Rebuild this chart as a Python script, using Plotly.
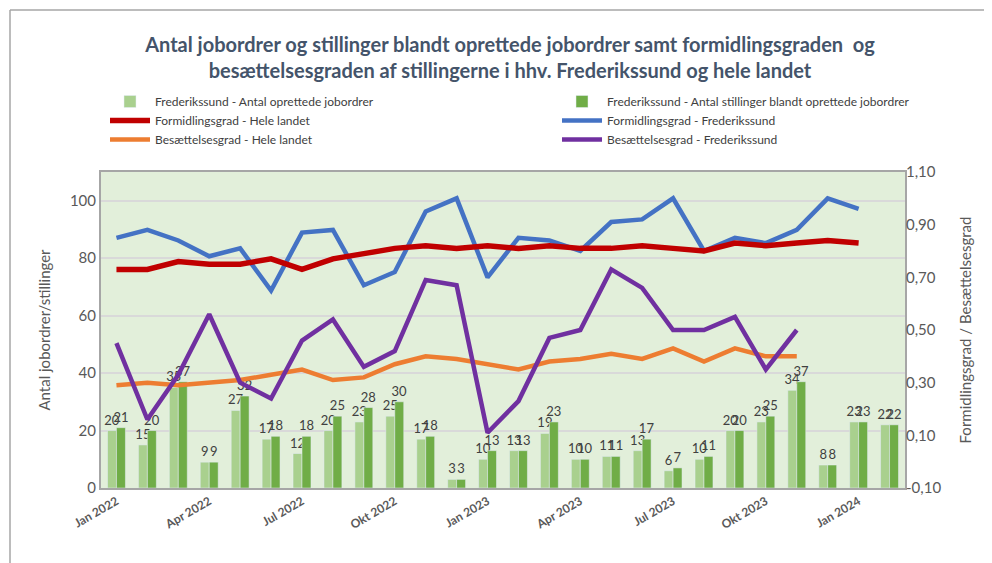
import plotly.graph_objects as go

months = ["Jan 2022", "Feb 2022", "Mar 2022", "Apr 2022", "Maj 2022", "Jun 2022",
          "Jul 2022", "Aug 2022", "Sep 2022", "Okt 2022", "Nov 2022", "Dec 2022",
          "Jan 2023", "Feb 2023", "Mar 2023", "Apr 2023", "Maj 2023", "Jun 2023",
          "Jul 2023", "Aug 2023", "Sep 2023", "Okt 2023", "Nov 2023", "Dec 2023",
          "Jan 2024", "Feb 2024"]
tick_months = ["Jan 2022", "Apr 2022", "Jul 2022", "Okt 2022", "Jan 2023",
               "Apr 2023", "Jul 2023", "Okt 2023", "Jan 2024"]

jobordrer = [20, 15, 35, 9, 27, 17, 12, 20, 23, 25, 17, 3, 10, 13, 19, 10, 11, 13,
             6, 10, 20, 23, 34, 8, 23, 22]
stillinger = [21, 20, 37, 9, 32, 18, 18, 25, 28, 30, 18, 3, 13, 13, 23, 10, 11, 17,
              7, 11, 20, 25, 37, 8, 23, 22]

formid_landet = [0.73, 0.73, 0.76, 0.75, 0.75, 0.77, 0.73, 0.77, 0.79, 0.81, 0.82,
                 0.81, 0.82, 0.81, 0.82, 0.81, 0.81, 0.82, 0.81, 0.80, 0.83, 0.82,
                 0.83, 0.84, 0.83]
formid_fred = [0.85, 0.88, 0.84, 0.78, 0.81, 0.65, 0.87, 0.88, 0.67, 0.72, 0.95,
               1.00, 0.70, 0.85, 0.84, 0.80, 0.91, 0.92, 1.00, 0.80, 0.85, 0.83,
               0.88, 1.00, 0.96]
besaet_landet = [0.29, 0.30, 0.29, 0.30, 0.31, 0.33, 0.35, 0.31, 0.32, 0.37, 0.40,
                 0.39, 0.37, 0.35, 0.38, 0.39, 0.41, 0.39, 0.43, 0.38, 0.43, 0.40,
                 0.40]
besaet_fred = [0.45, 0.16, 0.33, 0.56, 0.30, 0.24, 0.46, 0.54, 0.36, 0.42, 0.69,
               0.67, 0.11, 0.23, 0.47, 0.50, 0.73, 0.66, 0.50, 0.50, 0.55, 0.35,
               0.50]

right_ticks = [-0.10, 0.10, 0.30, 0.50, 0.70, 0.90, 1.10]
right_ticktext = ["-0,10", "0,10", "0,30", "0,50", "0,70", "0,90", "1,10"]

FONT = "Lato, Carlito, Calibri, sans-serif"
GRAY = "#595959"

fig = go.Figure()
fig.add_trace(go.Bar(x=months, y=jobordrer, name="Frederikssund - Antal oprettede jobordrer",
                     marker_color="#A9D08E", text=jobordrer, textposition="outside",
                     textfont=dict(color="#404040", size=13), cliponaxis=False,
                     constraintext="none", legend="legend"))
fig.add_trace(go.Bar(x=months, y=stillinger,
                     name="Frederikssund - Antal stillinger blandt oprettede jobordrer",
                     marker_color="#70AD47", text=stillinger, textposition="outside",
                     textfont=dict(color="#404040", size=13), cliponaxis=False,
                     constraintext="none", legend="legend2"))
fig.add_trace(go.Scatter(x=months[:len(formid_fred)], y=formid_fred, yaxis="y2",
                         mode="lines", name="Formidlingsgrad - Frederikssund",
                         line=dict(color="#4472C4", width=4.5), legend="legend2"))
fig.add_trace(go.Scatter(x=months[:len(formid_landet)], y=formid_landet, yaxis="y2",
                         mode="lines", name="Formidlingsgrad - Hele landet",
                         line=dict(color="#C00000", width=5.5), legend="legend"))
fig.add_trace(go.Scatter(x=months[:len(besaet_landet)], y=besaet_landet, yaxis="y2",
                         mode="lines", name="Besættelsesgrad - Hele landet",
                         line=dict(color="#ED7D31", width=4.5), legend="legend"))
fig.add_trace(go.Scatter(x=months[:len(besaet_fred)], y=besaet_fred, yaxis="y2",
                         mode="lines", name="Besættelsesgrad - Frederikssund",
                         line=dict(color="#7030A0", width=4.5), legend="legend2"))

# page offset (default body margin) and figure size
OFF = 8
W, H = 984, 555
# plot area in screen pixels
SX0, SX1, SY0, SY1 = 101, 905, 172, 488
L, R, T, B = SX0 - OFF, W - (SX1 - OFF), SY0 - OFF, H - (SY1 - OFF)
PW, PH = W - L - R, H - T - B

def px(xs):
    return (xs - SX0) / PW

def py(ys):
    return (SY1 - ys) / PH

legend_common = dict(orientation="v", yanchor="top", xanchor="left",
                     font=dict(family=FONT, size=12, color="#404040"),
                     bgcolor="rgba(0,0,0,0)", tracegroupgap=0, itemwidth=40,
                     traceorder="normal")

fig.update_layout(
    width=W, height=H,
    margin=dict(l=L, r=R, t=T, b=B, autoexpand=False),
    paper_bgcolor="white",
    plot_bgcolor="#E2EFDA",
    font=dict(family=FONT, color=GRAY),
    barmode="group", bargap=0.42, bargroupgap=0,
    separators=",.",
    title=dict(
        text="Antal jobordrer og stillinger blandt oprettede jobordrer samt formidlingsgraden  og<br>"
             "besættelsesgraden af stillingerne i hhv. Frederikssund og hele landet",
        x=0.5 + 7 / PW, xref="paper", xanchor="center",
        y=1 - 44 / H, yref="container", yanchor="middle",
        font=dict(family=FONT, size=20, color="#44546A", weight="bold"),
    ),
    legend=dict(x=px(105), y=py(87), **legend_common),
    legend2=dict(x=px(557), y=py(87), **legend_common),
    xaxis=dict(type="category", categoryorder="array", categoryarray=months,
               tickmode="array", tickvals=tick_months, ticktext=tick_months,
               tickangle=-30, tickfont=dict(size=12, color=GRAY, weight="bold"),
               showline=True, linecolor="#A6A6A6", linewidth=2, mirror=True,
               showgrid=False, ticks="", automargin=False),
    yaxis=dict(range=[0, 110], tickvals=[0, 20, 40, 60, 80, 100],
               tickfont=dict(size=15, color=GRAY),
               title=dict(text="Antal jobordrer/stillinger", font=dict(size=15, color=GRAY),
                          standoff=16),
               showgrid=True, gridcolor="#D9D9D9", gridwidth=2,
               showline=True, linecolor="#A6A6A6", linewidth=2, mirror=True,
               zeroline=False, ticks="", automargin=False),
    yaxis2=dict(range=[-0.10, 1.10], overlaying="y", side="right",
                tickmode="array", tickvals=right_ticks, ticktext=right_ticktext,
                tickfont=dict(size=15, color=GRAY),
                title=dict(text="Formidlingsgrad / Besættelsesgrad",
                           font=dict(size=15, color=GRAY), standoff=20),
                showgrid=False, zeroline=False, showline=False, ticks="",
                automargin=False),
    shapes=[
        dict(type="line", xref="paper", yref="paper", x0=px(10), x1=px(986),
             y0=py(10), y1=py(10), line=dict(color="#A6A6A6", width=1.5)),
        dict(type="line", xref="paper", yref="paper", x0=px(10), x1=px(10),
             y0=py(10), y1=py(600), line=dict(color="#A6A6A6", width=1.5)),
    ],
)

fig.write_html("out.html")
